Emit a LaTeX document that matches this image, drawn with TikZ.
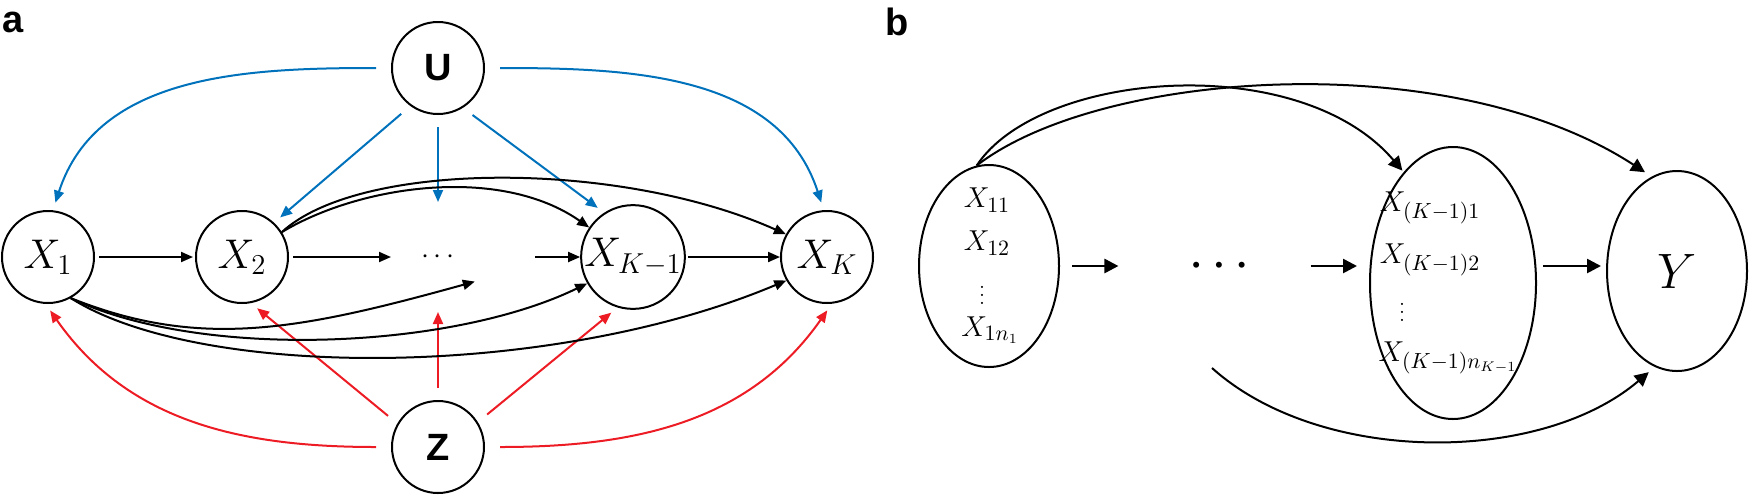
\documentclass[tikz,border=0pt]{standalone}
\usepackage{fontspec}
\newfontfamily\labsf{Liberation Sans}
\usetikzlibrary{arrows.meta,shapes.geometric}
\definecolor{ublue}{RGB}{0,114,188}
\definecolor{zred}{RGB}{237,28,36}
\begin{document}
\begin{tikzpicture}[x=0.5pt,y=-0.5pt,
  var/.style={circle,draw,line width=1pt,minimum size=46pt,inner sep=0pt,font=\fontsize{21}{24}\selectfont},
  conf/.style={var,font=\labsf\bfseries\fontsize{19}{22}\selectfont},
  grp/.style={ellipse,draw,line width=1pt,inner sep=0pt},
  arr/.style={line width=1pt,-{Triangle[length=6pt,width=5pt]}},
  barr/.style={line width=1.3pt,-{Triangle[length=7pt,width=7pt]}},
  uarr/.style={arr,ublue,shorten <=6pt,shorten >=4pt},
  zarr/.style={arr,zred,shorten <=6pt,shorten >=4pt},
  txt/.style={inner sep=0pt,font=\fontsize{15}{18}\selectfont},
  vd/.style={inner sep=0pt,font=\fontsize{11}{11}\selectfont},
  panel/.style={font=\labsf\bfseries\fontsize{19}{22}\selectfont}]
\useasboundingbox (0,0) rectangle (1750,494);

% panel a
\node[panel] (la) at (13,22) {a};
\node[conf] (U) at (438,68) {U};
\node[conf] (Z) at (438,447) {Z};
\node[var] (X1) at (48,257) {$X_1$};
\node[var] (X2) at (242,257) {$X_2$};
\node[var,draw=none,font=\fontsize{15}{18}\selectfont] (dots) at (438,257) {$\cdots$};
\node[var] (XK1) at (633,257) {$X_{K-1}$};
\node[var] (XK) at (827,257) {$X_K$};

\draw[uarr,shorten <=7.5pt] (U.180) to[out=180,in=72] (X1.84);
\draw[uarr] (U.234) -- (X2.47);
\draw[uarr] (U.270) -- (dots.90);
\draw[uarr] (U.302) -- (XK1.123);
\draw[uarr,shorten <=7.5pt] (U.0) to[out=0,in=108] (XK.94);

\draw[zarr,shorten <=7.5pt] (Z.180) to[out=180,in=-55] (X1.267);
\draw[zarr] (Z.150) -- (X2.281);
\draw[zarr] (Z.90) -- (dots.270);
\draw[zarr] (Z.32) -- (XK1.253);
\draw[zarr,shorten <=7.5pt] (Z.0) to[out=0,in=235] (XK.276);

\draw[arr,shorten <=2pt,shorten >=1pt] (X1) -- (X2);
\draw[arr,shorten <=2pt] (X2) -- (dots.west);
\draw[arr,shorten <=25pt] (dots) -- (XK1);
\draw[arr,shorten <=1pt] (XK1) -- (XK);

\draw[arr] (X2.32) .. controls (360,185) and (500,165) .. (XK1.146);
\draw[arr] (X2.32) .. controls (360,160) and (620,160) .. (XK.151);
\draw[arr,shorten >=2pt] (X1.299) .. controls (200,350) and (300,330) .. (dots.330);
\draw[arr] (X1.299) .. controls (200,360) and (450,350) .. (XK1.210);
\draw[arr] (X1.299) .. controls (200,380) and (550,380) .. (XK.210);

% panel b
\node[panel] (lb) at (897,22) {b};
\node[grp,minimum width=70pt,minimum height=101pt] (E1) at (989,266) {};
\node[txt] (x11) at (987,200) {$X_{11}$};
\node[txt] (x12) at (987,243) {$X_{12}$};
\node[vd] (v1) at (982,289) {$\vdots$};
\node[txt] (x1n) at (990,330) {$X_{1n_1}$};
\node[inner sep=0pt,font=\fontsize{11}{12}\selectfont] (bdots) at (1219,266) {\textbullet\hspace{3pt}\textbullet\hspace{3pt}\textbullet};
\node[grp,minimum width=83pt,minimum height=136pt] (EK) at (1453,283) {};
\node[txt] (xk1) at (1430,208) {$X_{(K-1)1}$};
\node[txt] (xk2) at (1430,260) {$X_{(K-1)2}$};
\node[vd] (vk) at (1402,306) {$\vdots$};
\node[txt] (xkn) at (1448,358) {$X_{(K-1)n_{K-1}}$};
\node[grp,minimum width=70pt,minimum height=100pt,font=\fontsize{24}{26}\selectfont] (Y) at (1677,271) {$Y$};
\coordinate (low) at (1212,368);

\draw[barr,shorten <=6pt,shorten >=34.5pt] (E1.east) -- (bdots.west);
\draw[barr,shorten <=30pt,shorten >=6pt] (bdots.east) -- (bdots.east -| EK.west);
\draw[barr,shorten <=3pt,shorten >=2.5pt] (bdots.east -| EK.east) -- (bdots.east -| Y.west);
\draw[line width=1pt,-{Triangle[length=7pt,width=7pt]},shorten >=1pt] (E1.97) .. controls (1040,70) and (1300,50) .. (EK.114);
\draw[line width=1pt,-{Triangle[length=7pt,width=7pt]},shorten >=4pt] (E1.97) .. controls (1100,70) and (1450,45) .. (Y.105);
\draw[line width=1pt,-{Triangle[length=7pt,width=7pt]},shorten >=4pt] (low) .. controls (1320,465) and (1540,465) .. (Y.257);
\end{tikzpicture}
\end{document}
